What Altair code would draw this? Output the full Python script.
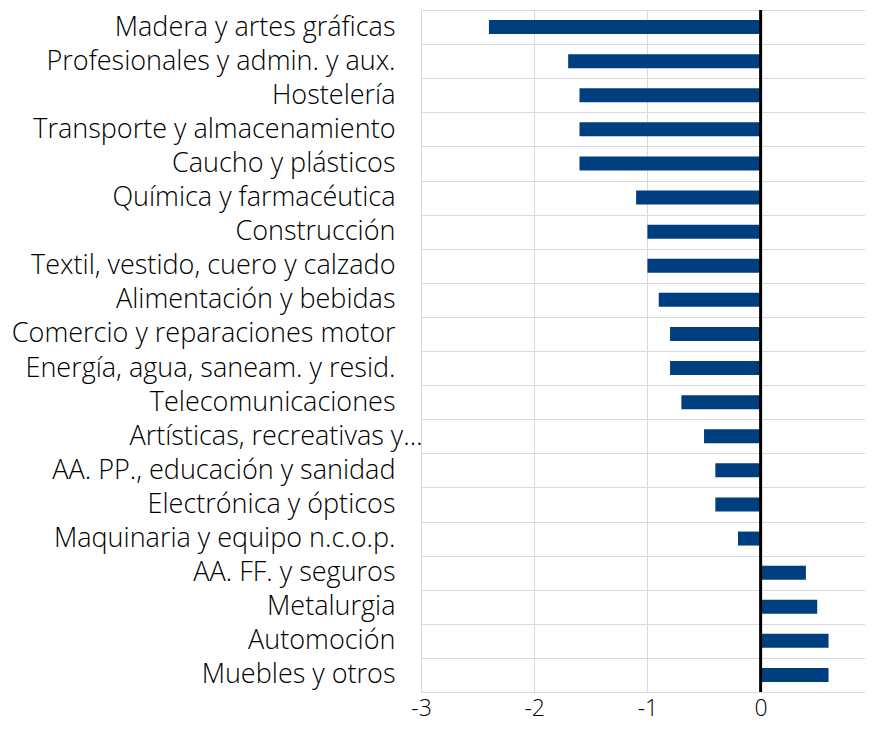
import altair as alt
import pandas as pd

categories = [
    "Madera y artes gráficas",
    "Profesionales y admin. y aux.",
    "Hostelería",
    "Transporte y almacenamiento",
    "Caucho y plásticos",
    "Química y farmacéutica",
    "Construcción",
    "Textil, vestido, cuero y calzado",
    "Alimentación y bebidas",
    "Comercio y reparaciones motor",
    "Energía, agua, saneam. y resid.",
    "Telecomunicaciones",
    "Artísticas, recreativas y…",
    "AA. PP., educación y sanidad",
    "Electrónica y ópticos ",
    "Maquinaria y equipo n.c.o.p.",
    "AA. FF. y seguros",
    "Metalurgia",
    "Automoción",
    "Muebles y otros",
]
values = [-2.4, -1.7, -1.6, -1.6, -1.6, -1.1, -1.0, -1.0, -0.9, -0.8,
          -0.8, -0.7, -0.5, -0.4, -0.4, -0.2, 0.4, 0.5, 0.6, 0.6]
x_ticks = [-3, -2, -1, 0, 1]

df = pd.DataFrame({"cat": categories, "val": values})

FONT = "Open Sans"

bars = alt.Chart(df).mark_bar(color="#003f7f", height=alt.RelativeBandSize(0.41)).encode(
    x=alt.X("val:Q", scale=alt.Scale(domain=[-3, 0.922], nice=False, clamp=False),
            axis=alt.Axis(values=x_ticks, title=None, grid=True, gridColor="#d9d9d9",
                          domain=False, ticks=False, labelPadding=23,
                          labelFontSize=23, labelFont=FONT, labelFontWeight=300,
                          labelColor="#000000",
                          labelFlush=False, labelBaseline="alphabetic", labelBound=False,
                          labelExpr="datum.value + ''")),
    y=alt.Y("cat:N", sort=categories,
            scale=alt.Scale(paddingInner=0, paddingOuter=0),
            axis=alt.Axis(title=None, grid=True, gridColor="#d9d9d9", tickBand="extent",
                          domain=False, ticks=False,
                          labelPadding={"condition": {"test": "datum.label == 'Artísticas, recreativas y…'", "value": -1}, "value": 26},
                          labelFontSize=27, labelFont=FONT, labelFontWeight=300,
                          labelColor="#000000",
                          labelLimit=600)),
)

zero = alt.Chart(pd.DataFrame({"z": [0]})).mark_rule(color="#000000", strokeWidth=3).encode(
    x=alt.X("z:Q")
)

chart = alt.layer(bars, zero).properties(
    width=444, height=682,
    autosize=alt.AutoSizeParams(type="none"),
    padding={"left": 413, "top": 2, "right": 0, "bottom": 30},
).configure_view(stroke=None)

chart.save("out.html", embed_options={"renderer": "svg", "actions": False})
